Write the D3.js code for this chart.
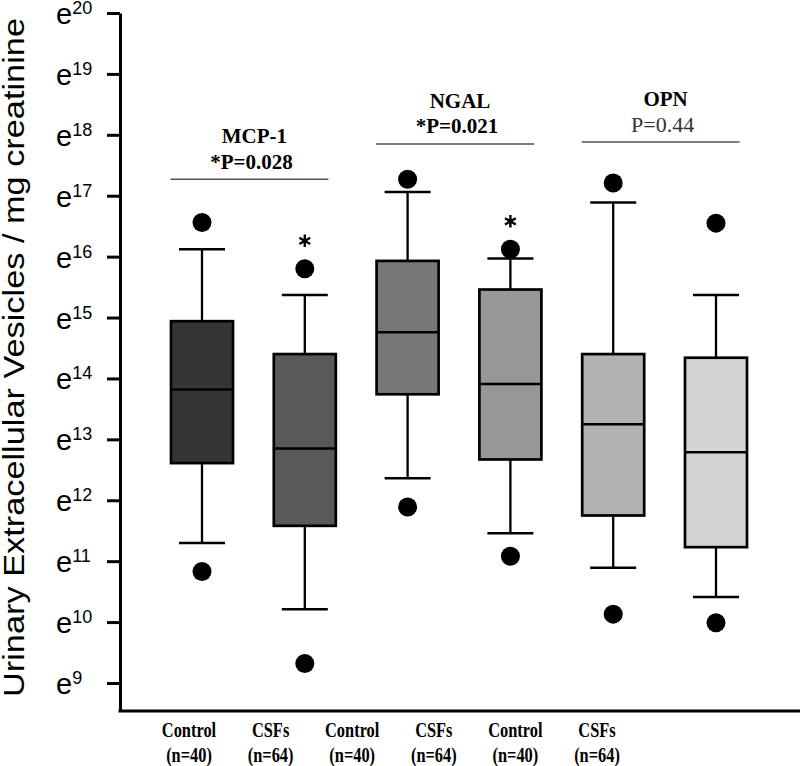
<!DOCTYPE html>
<html>
<head>
<meta charset="utf-8">
<script src="https://cdn.jsdelivr.net/npm/d3@7"></script>
<style>
  html, body { margin: 0; padding: 0; background: #fff; }
  svg { display: block; }
</style>
</head>
<body>
<svg id="chart" width="800" height="766"></svg>
<script>
// ---------- data (values are natural-log exponents: e^x) ----------
const groups = ["MCP-1 Control", "MCP-1 CSFs", "NGAL Control", "NGAL CSFs", "OPN Control", "OPN CSFs"];
const categoryLabels = ["Control", "CSFs", "Control", "CSFs", "Control", "CSFs"];
const sampleLabels = ["(n=40)", "(n=64)", "(n=40)", "(n=64)", "(n=40)", "(n=64)"];
const whiskerLow  = [11.30, 10.21, 12.36, 11.46, 10.89, 10.41];
const q1          = [12.61, 11.58, 13.74, 12.67, 11.75, 11.23];
const median      = [13.82, 12.85, 14.76, 13.91, 13.25, 12.79];
const q3          = [14.94, 14.40, 15.93, 15.46, 14.40, 14.34];
const whiskerHigh = [16.12, 15.37, 17.06, 15.97, 16.89, 15.37];
const outlierLow  = [10.83, 9.32, 11.89, 11.08, 10.13, 9.99];
const outlierHigh = [16.56, 15.80, 17.27, 16.12, 17.21, 16.55];
const significant = [false, true, false, true, false, false];
const boxFills = ["#353535", "#595959", "#777777", "#979797", "#b2b2b2", "#d4d4d4"];

const markers = ["MCP-1", "NGAL", "OPN"];
const pLabels = ["*P=0.028", "*P=0.021", "P=0.44"];
const pBold = [true, true, false];
const bracketLevel = [17.27, 17.85, 17.88];

const tickExponents = [9, 10, 11, 12, 13, 14, 15, 16, 17, 18, 19, 20];
const yDomain = [8.54, 20];
const yTitle = "Urinary Extracellular Vesicles / mg creatinine";

// ---------- layout ----------
const svg = d3.select("#chart");
const axisX = 120, xAxisY = 711, topY = 13, rightX = 800;

const y = d3.scaleLinear().domain(yDomain).range([xAxisY, topY]);
const x = d3.scalePoint().domain(groups).range([202, 716]);
const xl = d3.scalePoint().domain(groups).range([189, 597]);

const boxW = 62, capW = 46, r = 9.5;

// ---------- y axis ----------
const yAxis = d3.axisLeft(y).tickValues(tickExponents).tickSize(13).tickSizeOuter(0).tickFormat("");
const gy = svg.append("g").attr("transform", `translate(${axisX},0)`).call(yAxis);
gy.select(".domain").attr("stroke", "#000").attr("stroke-width", 3);
gy.selectAll(".tick line").attr("stroke", "#000").attr("stroke-width", 3);

const tl = svg.append("g").selectAll("text").data(tickExponents).join("text")
  .attr("x", 56).attr("y", d => y(d) + 11)
  .attr("font-family", "'Liberation Sans', Arial, sans-serif")
  .attr("fill", "#000");
tl.append("tspan").attr("font-size", 29).text("e");
tl.append("tspan").attr("font-size", 18).attr("dy", -10).text(d => d);

// ---------- x axis line ----------
svg.append("line")
  .attr("x1", axisX - 1.5).attr("x2", rightX)
  .attr("y1", xAxisY).attr("y2", xAxisY)
  .attr("stroke", "#000").attr("stroke-width", 3);

// ---------- y title ----------
svg.append("text")
  .attr("transform", `translate(24,${(697 + 18) / 2}) rotate(-90)`)
  .attr("text-anchor", "middle")
  .attr("font-family", "'Liberation Sans', Arial, sans-serif")
  .attr("font-size", 30)
  .attr("textLength", 679)
  .attr("lengthAdjust", "spacingAndGlyphs")
  .attr("fill", "#000")
  .text(yTitle);

// ---------- boxes ----------
const data = groups.map((g, i) => ({
  g, lo: whiskerLow[i], q1: q1[i], med: median[i], q3: q3[i], hi: whiskerHigh[i],
  oLo: outlierLow[i], oHi: outlierHigh[i], sig: significant[i], fill: boxFills[i]
}));

const bg = svg.append("g").selectAll("g").data(data).join("g")
  .attr("transform", d => `translate(${x(d.g)},0)`);

// whiskers
bg.append("line").attr("x1", 0).attr("x2", 0)
  .attr("y1", d => y(d.hi)).attr("y2", d => y(d.q3))
  .attr("stroke", "#000").attr("stroke-width", 2.3);
bg.append("line").attr("x1", 0).attr("x2", 0)
  .attr("y1", d => y(d.q1)).attr("y2", d => y(d.lo))
  .attr("stroke", "#000").attr("stroke-width", 2.3);
bg.append("line").attr("x1", -capW / 2).attr("x2", capW / 2)
  .attr("y1", d => y(d.hi)).attr("y2", d => y(d.hi))
  .attr("stroke", "#000").attr("stroke-width", 2.5);
bg.append("line").attr("x1", -capW / 2).attr("x2", capW / 2)
  .attr("y1", d => y(d.lo)).attr("y2", d => y(d.lo))
  .attr("stroke", "#000").attr("stroke-width", 2.5);
// box
bg.append("rect")
  .attr("x", -boxW / 2).attr("width", boxW)
  .attr("y", d => y(d.q3)).attr("height", d => y(d.q1) - y(d.q3))
  .attr("fill", d => d.fill).attr("stroke", "#000").attr("stroke-width", 2.7);
bg.append("line").attr("x1", -boxW / 2).attr("x2", boxW / 2)
  .attr("y1", d => y(d.med)).attr("y2", d => y(d.med))
  .attr("stroke", "#000").attr("stroke-width", 2.5);
// outliers
bg.append("circle").attr("cx", 0).attr("cy", d => y(d.oHi)).attr("r", r).attr("fill", "#000");
bg.append("circle").attr("cx", 0).attr("cy", d => y(d.oLo)).attr("r", r).attr("fill", "#000");
// significance asterisks
bg.filter(d => d.sig).append("path")
  .attr("transform", d => `translate(0,${y(d.oHi) - 28})`)
  .attr("d", d3.symbol(d3.symbolAsterisk, 110)())
  .attr("fill", "none").attr("stroke", "#000").attr("stroke-width", 2.4);

// ---------- category labels ----------
const lg = svg.append("g").selectAll("g").data(groups).join("g")
  .attr("transform", d => `translate(${xl(d)},0)`);
lg.append("text")
  .attr("transform", "translate(0,737) scale(0.82,1)")
  .attr("text-anchor", "middle")
  .attr("font-family", "'Liberation Serif', 'Times New Roman', serif")
  .attr("font-weight", "bold").attr("font-size", 20).attr("fill", "#000")
  .text((d, i) => categoryLabels[i]);
lg.append("text")
  .attr("transform", "translate(0,762) scale(0.82,1)")
  .attr("text-anchor", "middle")
  .attr("font-family", "'Liberation Serif', 'Times New Roman', serif")
  .attr("font-weight", "bold").attr("font-size", 20).attr("fill", "#000")
  .text((d, i) => sampleLabels[i]);

// ---------- marker titles and brackets ----------
const ann = markers.map((m, i) => ({
  m, p: pLabels[i], bold: pBold[i], lvl: bracketLevel[i],
  cx: (x(groups[2 * i]) + x(groups[2 * i + 1])) / 2
}));
const ag = svg.append("g").selectAll("g").data(ann).join("g");
ag.append("line")
  .attr("x1", d => d.cx - 83).attr("x2", d => d.cx + 75)
  .attr("y1", d => y(d.lvl)).attr("y2", d => y(d.lvl))
  .attr("stroke", "#555").attr("stroke-width", 1.5);
ag.append("text")
  .attr("x", d => d.cx + 1).attr("y", d => y(d.lvl) - 36)
  .attr("text-anchor", "middle")
  .attr("font-family", "'Liberation Serif', 'Times New Roman', serif")
  .attr("font-weight", "bold").attr("font-size", 21).attr("fill", "#000")
  .text(d => d.m);
ag.append("text")
  .attr("x", d => d.cx - 2).attr("y", d => y(d.lvl) - 10.5)
  .attr("text-anchor", "middle")
  .attr("font-family", "'Liberation Serif', 'Times New Roman', serif")
  .attr("font-weight", d => d.bold ? "bold" : "normal")
  .attr("font-size", d => d.bold ? 21 : 22)
  .attr("fill", d => d.bold ? "#000" : "#333")
  .text(d => d.p);
</script>
</body>
</html>
